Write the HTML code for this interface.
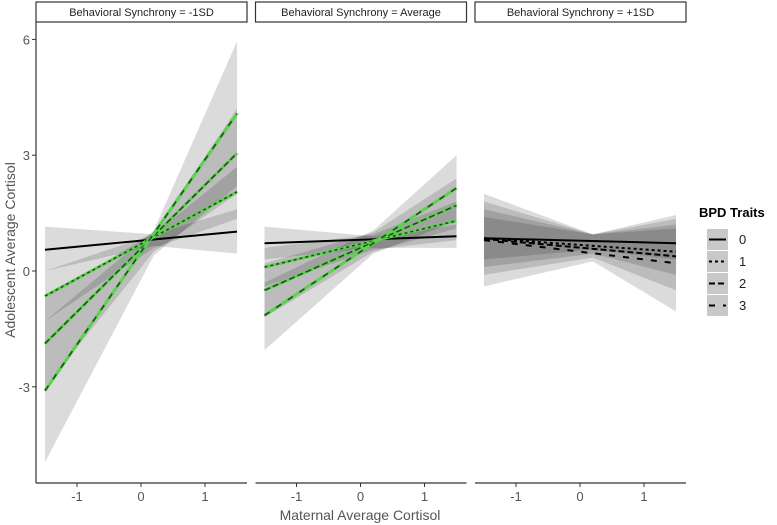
<!DOCTYPE html>
<html><head><meta charset="utf-8"><style>
body{margin:0;background:#fff;}
svg{display:block;font-family:"Liberation Sans",sans-serif;}
</style></head><body>
<svg id="chart" width="777" height="525" viewBox="0 0 777 525">
<g id="panels"></g>
<g id="axes"></g>
<text x="15" y="250" transform="rotate(-90 15 250)" text-anchor="middle" font-size="14" fill="#555">Adolescent Average Cortisol</text>
<text x="360" y="520" text-anchor="middle" font-size="14" fill="#555">Maternal Average Cortisol</text>
<g>
<text x="699" y="217" font-size="13" font-weight="bold" fill="#000">BPD Traits</text>
<g id="legend"></g>
</g>
</svg>
<script>
const panelTitles = ["Behavioral Synchrony = -1SD","Behavioral Synchrony =  Average","Behavioral Synchrony = +1SD"];
const levels = ["0","1","2","3"];
const xEnds = [-1.5, 1.5];
const xRib = [-1.5, 0.2, 1.5];
const lineP1 = [[0.55,1.02],[-0.65,2.05],[-1.88,3.05],[-3.1,4.08]];
const lineP2 = [[0.72,0.9],[0.1,1.3],[-0.5,1.7],[-1.15,2.15]];
const lineP3 = [[0.85,0.72],[0.85,0.5],[0.83,0.38],[0.8,0.2]];
const lowP1 = [[0.0,0.65,0.45],[-1.3,0.6,1.35],[-3.0,0.5,2.0],[-4.95,0.4,2.2]];
const upP1  = [[1.15,0.95,1.6],[0.0,0.95,2.7],[-0.7,1.0,4.2],[-1.3,1.05,5.95]];
const lowP2 = [[0.3,0.6,0.6],[-0.4,0.55,0.8],[-1.2,0.5,1.1],[-2.05,0.45,1.3]];
const upP2  = [[1.15,0.9,1.2],[0.6,0.95,1.8],[0.2,1.0,2.4],[-0.3,1.05,3.0]];
const lowP3 = [[0.3,0.55,0.3],[0.1,0.45,-0.1],[-0.1,0.35,-0.5],[-0.4,0.25,-1.05]];
const upP3  = [[1.4,0.95,1.1],[1.6,0.95,1.2],[1.8,0.95,1.35],[2.0,0.95,1.45]];
const yTicks = [-3,0,3,6];
const xTicks = [-1,0,1];
const lines=[lineP1,lineP2,lineP3], lows=[lowP1,lowP2,lowP3], ups=[upP1,upP2,upP3];
const greenPanels=[true,true,false];
const dashes=["none","3 3","6 3","6 8"];

const NS="http://www.w3.org/2000/svg";
const PW=211, PL0=36, PSTEP=219.5, TOP=22, BOT=483;
function xs(p,v){return PL0+p*PSTEP+105+v*64;}
function ys(v){return 271-v*38.6;}
function el(t,a,par){const e=document.createElementNS(NS,t);for(const k in a)e.setAttribute(k,a[k]);par.appendChild(e);return e;}
const G=document.getElementById('panels'), A=document.getElementById('axes');
for(let p=0;p<3;p++){
  const left=PL0+p*PSTEP;
  const strip=el('rect',{x:left,y:2,width:PW,height:20,fill:'#fff',stroke:'#333','stroke-width':1.2},G);
  
  
  const st=el('text',{x:left+PW/2,y:16,'text-anchor':'middle','font-size':11,fill:'#222'},G);
  st.textContent=panelTitles[p];
  
  
  for(let i=0;i<4;i++){
    let pts=[];
    for(let k=0;k<3;k++)pts.push(xs(p,xRib[k])+','+ys(ups[p][i][k]));
    for(let k=2;k>=0;k--)pts.push(xs(p,xRib[k])+','+ys(lows[p][i][k]));
    const r=el('polygon',{points:pts.join(' '),fill:'rgba(0,0,0,0.14)'},G);
    
    
  }
  for(let i=0;i<4;i++){
    const a={x1:xs(p,xEnds[0]),y1:ys(lines[p][i][0]),x2:xs(p,xEnds[1]),y2:ys(lines[p][i][1])};
    if(greenPanels[p]&&i>0){
      const g=el('line',Object.assign({stroke:'#5ad44a','stroke-width':3},a),G);
      
      
    }
    const l=el('line',Object.assign({stroke:(greenPanels[p]&&i>0)?'#264a26':'#000','stroke-width':(greenPanels[p]&&i>0)?1.6:2,'stroke-dasharray':dashes[i]},a),G);
    
    
  }
  const xa=el('line',{x1:left,y1:BOT,x2:left+PW,y2:BOT,stroke:'#333','stroke-width':1.2},A);
  
  
  xTicks.forEach(t=>{
    el('line',{x1:xs(p,t),y1:BOT,x2:xs(p,t),y2:BOT+4,stroke:'#333'},A);
    const tx=el('text',{x:xs(p,t),y:BOT+18,'text-anchor':'middle','font-size':13,fill:'#555'},A);
    tx.textContent=String(t);
    
    
  });
}
const ya=el('line',{x1:PL0,y1:TOP,x2:PL0,y2:BOT,stroke:'#333','stroke-width':1.2},A);


yTicks.forEach(t=>{
  el('line',{x1:PL0-4,y1:ys(t),x2:PL0,y2:ys(t),stroke:'#333'},A);
  const tx=el('text',{x:PL0-6,y:ys(t)+5,'text-anchor':'end','font-size':13,fill:'#555'},A);
  tx.textContent=String(t);
  
  
});
const L=document.getElementById('legend');
levels.forEach((lv,i)=>{
  const y=229+i*22;
  const g=el('g',{},L);
  
  
  el('rect',{x:707,y:y,width:21,height:21,fill:'#c8c8c8'},g);
  el('line',{x1:709,y1:y+10.5,x2:726,y2:y+10.5,stroke:'#000','stroke-width':2,'stroke-dasharray':dashes[i]},g);
  const t=el('text',{x:739,y:y+15,'font-size':13,fill:'#222'},g);
  t.textContent=lv;
});
</script>
</body></html>
